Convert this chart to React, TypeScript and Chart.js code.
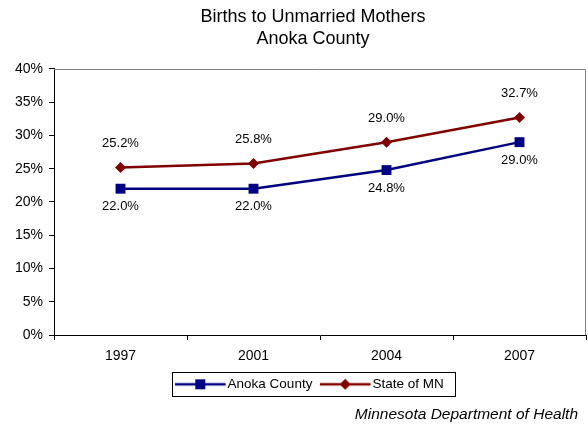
import React, { useEffect, useRef } from 'react';
import { Chart, registerables } from 'chart.js';

Chart.register(...registerables);

// ---- data ----
const categories = ['1997', '2001', '2004', '2007'];
const anokaCounty = [22.0, 22.0, 24.8, 29.0];
const stateOfMN = [25.2, 25.8, 29.0, 32.7];
const seriesNames = ['Anoka County', 'State of MN'];
const titleLines = ['Births to Unmarried Mothers', 'Anoka County'];
const footerText = 'Minnesota Department of Health';
const yMin = 0;
const yMax = 40;
const yStep = 5;

// ---- style ----
const FONT = '"Liberation Sans", Arial, sans-serif';
const NAVY = '#000080';
const MAROON = '#800000';
const LABEL_OFFSETS = [18, -24];
const ICON_W = 60;
const ICON_LINE_START = 7.9;
const ICON_LINE_END = 58.6;
const LEGEND_BOX_W = 47.65;

function makeIcon(color: string, style: 'rect' | 'diamond') {
  const c = document.createElement('canvas');
  c.width = ICON_W;
  c.height = 12;
  const x = c.getContext('2d')!;
  x.strokeStyle = color;
  x.lineWidth = 2.5;
  x.beginPath();
  x.moveTo(ICON_LINE_START, 6);
  x.lineTo(ICON_LINE_END, 6);
  x.stroke();
  x.fillStyle = color;
  const cx = (ICON_LINE_START + ICON_LINE_END) / 2;
  if (style === 'rect') {
    x.fillRect(cx - 5, 1, 10, 10);
  } else {
    x.beginPath();
    x.moveTo(cx, 0.5);
    x.lineTo(cx + 5.5, 6);
    x.lineTo(cx, 11.5);
    x.lineTo(cx - 5.5, 6);
    x.closePath();
    x.fill();
  }
  return c;
}

const dataLabelPlugin = {
  id: 'dataLabels',
  afterDatasetsDraw(chart: any) {
    const ctx = chart.ctx;
    ctx.save();
    ctx.font = `13px ${FONT}`;
    ctx.fillStyle = '#000';
    ctx.textAlign = 'center';
    ctx.textBaseline = 'middle';
    chart.data.datasets.forEach((ds: any, i: number) => {
      const meta = chart.getDatasetMeta(i);
      meta.data.forEach((pt: any, j: number) => {
        const v = ds.data[j];
        ctx.fillText(v.toFixed(1) + '%', pt.x, pt.y + LABEL_OFFSETS[i]);
      });
    });
    ctx.restore();
  },
};

const framePlugin = {
  id: 'frame',
  afterLayout(chart: any) {
    // centre title and legend the way the original does (slightly right of page centre)
    const ca = chart.chartArea;
    if (chart.titleBlock) chart.titleBlock.left = ca.left - 14;
    if (chart.legend) chart.legend.left = ca.left - 23;
  },
  afterDraw(chart: any) {
    const ctx = chart.ctx;
    const { left, top, right, bottom } = chart.chartArea;
    ctx.save();
    // plot area top/right border
    ctx.strokeStyle = '#808080';
    ctx.lineWidth = 1;
    ctx.beginPath();
    ctx.moveTo(left, Math.round(top) + 0.5);
    ctx.lineTo(Math.round(right) - 0.5, Math.round(top) + 0.5);
    ctx.lineTo(Math.round(right) - 0.5, bottom);
    ctx.stroke();
    // legend box
    const lg = chart.legend;
    if (lg && lg.legendHitBoxes && lg.legendHitBoxes.length) {
      const hb = lg.legendHitBoxes;
      const last = hb[hb.length - 1];
      const l = hb[0].left - 1.6;
      const r = last.left + last.width + 10.3;
      const cy = hb[0].top + hb[0].height / 2;
      ctx.strokeStyle = '#000';
      ctx.strokeRect(Math.round(l) + 0.5, Math.round(cy - 12) + 0.5, Math.round(r - l), 24);
    }
    // footer
    ctx.font = `italic 15.5px ${FONT}`;
    ctx.fillStyle = '#000';
    ctx.textAlign = 'right';
    ctx.textBaseline = 'middle';
    ctx.fillText(footerText, chart.width - 10, chart.height - 13);
    ctx.restore();
  },
};

export default function App() {
  const ref = useRef<HTMLCanvasElement>(null);

  useEffect(() => {
    document.body.style.margin = '0';
    const icons = [makeIcon(NAVY, 'rect'), makeIcon(MAROON, 'diamond')];
    const chart = new Chart(ref.current!, {
      type: 'line',
      data: {
        labels: categories,
        datasets: [
          {
            label: seriesNames[0],
            data: anokaCounty,
            borderColor: NAVY,
            backgroundColor: NAVY,
            borderWidth: 2.5,
            pointStyle: 'rect',
            pointRadius: 7,
            pointBorderWidth: 0,
            pointBackgroundColor: NAVY,
            tension: 0,
          },
          {
            label: seriesNames[1],
            data: stateOfMN,
            borderColor: MAROON,
            backgroundColor: MAROON,
            borderWidth: 2.5,
            pointStyle: 'rectRot',
            pointRadius: 5.5,
            pointBorderWidth: 0,
            pointBackgroundColor: MAROON,
            tension: 0,
          },
        ],
      },
      options: {
        responsive: false,
        animation: false,
        devicePixelRatio: 1,
        color: '#000',
        layout: { autoPadding: false, padding: { left: 8, right: 2, top: 0, bottom: 26.95 } },
        plugins: {
          tooltip: { enabled: false },
          title: {
            display: true,
            text: titleLines,
            color: '#000',
            font: { family: FONT, size: 18, weight: 'normal', lineHeight: 1.2222 },
            padding: { top: 6, bottom: 19 },
          },
          legend: {
            display: true,
            position: 'bottom',
            labels: {
              color: '#000',
              font: { family: FONT, size: 13.5, lineHeight: 1 },
              usePointStyle: true,
              pointStyleWidth: LEGEND_BOX_W,
              padding: 5.75,
              generateLabels: (ch: any) =>
                ch.data.datasets.map((ds: any, i: number) => ({
                  text: ds.label,
                  pointStyle: icons[i],
                  fillStyle: ds.borderColor,
                  strokeStyle: ds.borderColor,
                  lineWidth: 0,
                  hidden: false,
                  datasetIndex: i,
                  fontColor: '#000',
                })),
            },
          },
        },
        scales: {
          x: {
            type: 'category',
            offset: true,
            grid: { offset: true, drawOnChartArea: false, tickLength: 5, color: '#000' },
            border: { color: '#000', width: 1 },
            ticks: { color: '#000', padding: 7.5, font: { family: FONT, size: 14 } },
            afterFit: (s: any) => {
              s.paddingLeft = 0;
              s.paddingRight = 0;
            },
          },
          y: {
            min: yMin,
            max: yMax,
            grid: { drawOnChartArea: false, tickLength: 5, color: '#000' },
            border: { color: '#000', width: 1 },
            ticks: {
              stepSize: yStep,
              color: '#000',
              padding: 6,
              font: { family: FONT, size: 14 },
              callback: (v: any) => v + '%',
            },
            afterFit: (s: any) => {
              s.width = 46;
            },
          },
        },
      },
      plugins: [dataLabelPlugin, framePlugin],
    } as any);
    return () => chart.destroy();
  }, []);

  return (
    <div style={{ width: 588, height: 428 }}>
      <canvas ref={ref} width={588} height={428} style={{ width: 588, height: 428, display: 'block' }} />
    </div>
  );
}
